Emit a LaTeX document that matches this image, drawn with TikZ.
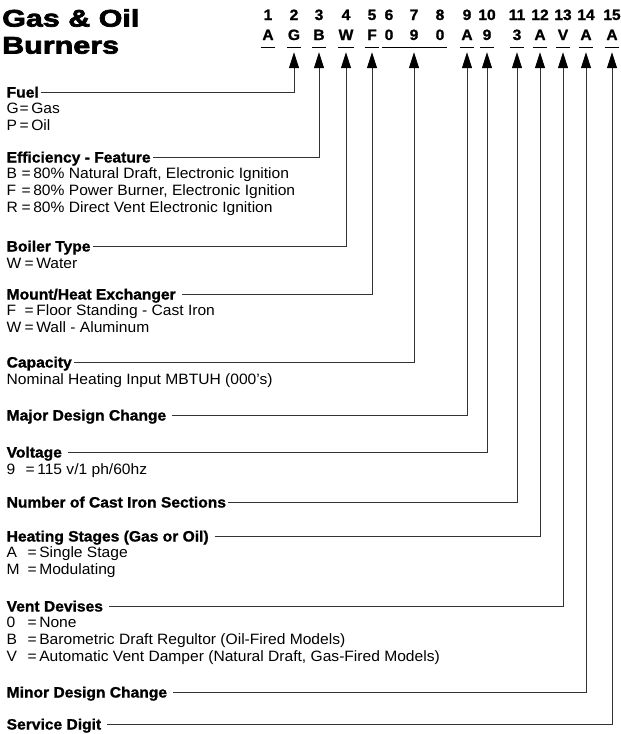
\documentclass[tikz,border=0pt]{standalone}
\usepackage{fontspec}
\setmainfont{Liberation Sans}[FakeStretch=1.04]
\newfontfamily\titlefont{Liberation Sans}[FakeStretch=1.27,FakeBold=3]
\newfontfamily\headfont{Liberation Sans}[FakeStretch=1.04,FakeBold=1.2]
\usetikzlibrary{arrows.meta}
\newcommand\keyeq[2]{\makebox[#1][l]{#2}=\,}
\tikzset{
  head/.style={anchor=west, font=\headfont\bfseries\fontsize{15}{17}\selectfont, text height=11pt, text depth=0pt, inner sep=0pt},
  body/.style={anchor=north west, align=left, font=\fontsize{15}{17}\selectfont, inner sep=0pt, execute at begin node=\strut},
  num/.style={anchor=base, font=\headfont\bfseries\fontsize{15}{17}\selectfont, inner sep=0pt},
  code/.style={anchor=base, font=\headfont\bfseries\fontsize{15}{17}\selectfont, text height=10pt, text depth=7pt, inner sep=0pt, minimum width=14pt},
  uline/.style={line width=1pt},
  lead/.style={-{Triangle[length=16pt,width=10pt,color=black]}, line width=1pt, black!80, shorten <=2pt, shorten >=5pt},
  gap/.style={shorten <=6pt},
}
\begin{document}
\begin{tikzpicture}[x=1pt, y=-1pt]
\useasboundingbox (0,0) rectangle (621,734);
% Title
\node[anchor=north west, align=left, inner sep=0pt, font=\titlefont\bfseries\fontsize{24}{27}\selectfont, execute at begin node=\strut] (title) at (2,9) {Gas \& Oil\\Burners};
% Model number digits
\foreach \i/\x/\t in {1/268/A,2/294/G,3/319/B,4/346/W,5/372/F,6/389/0,7/414/9,8/440/0,9/467/A,10/487/9,11/517/3,12/540/A,13/563/V,14/586/A,15/612/A}{
  \node[num] (n\i) at (\x,20) {\i};
  \node[code] (c\i) at (\x,40) {\t};
}
\foreach \i in {1,2,3,4,5,9,10,11,12,13,14,15}
  \draw[uline] (c\i.south west) -- (c\i.south east);
\draw[uline] (c6.south west) -- (c8.south east);
% Fuel
\node[head] (fuel) at (6.5,92) {Fuel};
\node[body] (fuelv) at ([yshift=-5.1pt]fuel.south west) {\keyeq{13pt}{G}Gas\\\keyeq{13pt}{P}Oil};
\draw[lead] (fuel.east) -| (c2.south);
% Efficiency
\node[head] (eff) at (6.5,157) {Efficiency - Feature};
\node[body] (effv) at ([yshift=-5.1pt]eff.south west) {\keyeq{15pt}{B}80\% Natural Draft, Electronic Ignition\\\keyeq{15pt}{F}80\% Power Burner, Electronic Ignition\\\keyeq{15pt}{R}80\% Direct Vent Electronic Ignition};
\draw[lead] (eff.east) -| (c3.south);
% Boiler type
\node[head] (boiler) at (6.5,246) {Boiler Type};
\node[body] (boilerv) at ([yshift=-5.1pt]boiler.south west) {\keyeq{18pt}{W}Water};
\draw[lead] (boiler.east) -| (c4.south);
% Mount
\node[head] (mount) at (6.5,294) {Mount/Heat Exchanger};
\node[body] (mountv) at ([yshift=-5.1pt]mount.south west) {\keyeq{18pt}{F}Floor Standing - Cast Iron\\\keyeq{18pt}{W}Wall - Aluminum};
\draw[lead, gap] (mount.east) -| (c5.south);
% Capacity
\node[head] (cap) at (6.5,362) {Capacity};
\node[body] (capv) at ([yshift=-5.1pt]cap.south west) {Nominal Heating Input MBTUH (000’s)};
\draw[lead] (cap.east) -| (c7.south);
% Major design change
\node[head] (major) at (6.5,415) {Major Design Change};
\draw[lead, gap] (major.east) -| (c9.south);
% Voltage
\node[head] (volt) at (6.5,452) {Voltage};
\node[body] (voltv) at ([yshift=-5.1pt]volt.south west) {\keyeq{19pt}{9}115 v/1 ph/60hz};
\draw[lead, gap] (volt.east) -| (c10.south);
% Sections
\node[head] (sect) at (6.5,502) {Number of Cast Iron Sections};
\draw[lead] (sect.east) -| (c11.south);
% Heating stages
\node[head] (stage) at (6.5,536) {Heating Stages (Gas or Oil)};
\node[body] (stagev) at ([yshift=-5.1pt]stage.south west) {\keyeq{21pt}{A}Single Stage\\\keyeq{21pt}{M}Modulating};
\draw[lead, gap] (stage.east) -| (c12.south);
% Vent
\node[head] (vent) at (6.5,606) {Vent Devises};
\node[body] (ventv) at ([yshift=-5.1pt]vent.south west) {\keyeq{21pt}{0}None\\\keyeq{21pt}{B}Barometric Draft Regultor (Oil-Fired Models)\\\keyeq{21pt}{V}Automatic Vent Damper (Natural Draft, Gas-Fired Models)};
\draw[lead, gap] (vent.east) -| (c13.south);
% Minor design change
\node[head] (minor) at (6.5,692) {Minor Design Change};
\draw[lead, gap] (minor.east) -| (c14.south);
% Service
\node[head] (serv) at (6.5,724) {Service Digit};
\draw[lead, gap] (serv.east) -| (c15.south);
\end{tikzpicture}
\end{document}
